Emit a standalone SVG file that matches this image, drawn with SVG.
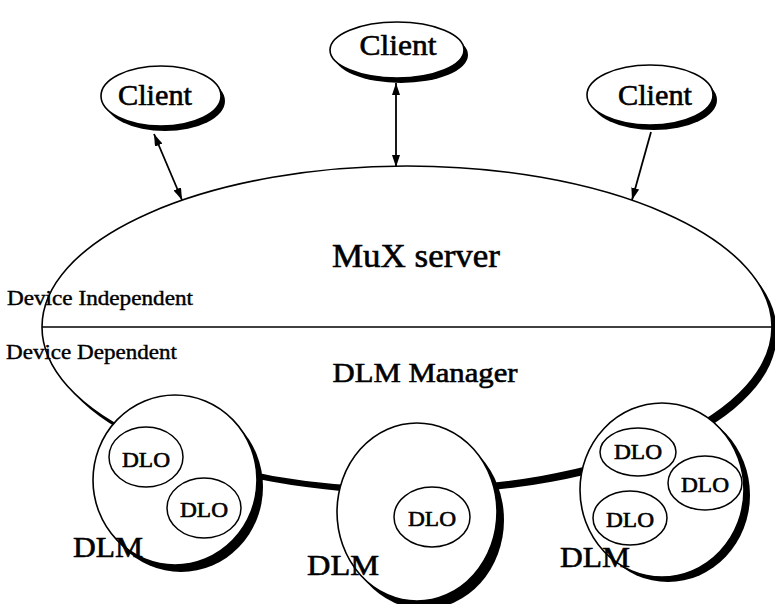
<svg xmlns="http://www.w3.org/2000/svg" width="775" height="604" viewBox="0 0 775 604">
<style>
text{font-family:"Liberation Serif","Times New Roman",serif;fill:#000;stroke:#000;stroke-width:0.6}
.sh{fill:#000;stroke:none}
.body{fill:#fff;stroke:#000;stroke-width:1.6}
.dlo{fill:#fff;stroke:#000;stroke-width:1.5}
.t-client{font-size:29px;text-anchor:middle}
.t-dlo{font-size:22px;text-anchor:middle}
.t-dlm{font-size:30px}
.t-side{font-size:20px;stroke-width:0.4}
.conn{stroke:#000;stroke-width:1.8;fill:none}
</style>
<defs>
<marker id="ah" viewBox="0 0 12 8" refX="12" refY="4" markerWidth="12" markerHeight="8" markerUnits="userSpaceOnUse" orient="auto-start-reverse">
<path d="M0,0 L12,4 L0,8 Z" fill="#000"/>
</marker>
</defs>

<g id="server">
<ellipse class="sh" cx="412" cy="333" rx="365" ry="161"/>
<ellipse class="body" cx="407" cy="327" rx="365" ry="161"/>
<line x1="42" y1="327" x2="772" y2="327" stroke="#000" stroke-width="1.6"/>
<text x="416" y="267" font-size="34" text-anchor="middle" textLength="168" lengthAdjust="spacingAndGlyphs">MuX server</text>
<text x="425" y="382" font-size="28" text-anchor="middle" textLength="185" lengthAdjust="spacingAndGlyphs">DLM Manager</text>
<text class="t-side" x="7" y="305" textLength="186" lengthAdjust="spacingAndGlyphs">Device Independent</text>
<text class="t-side" x="6" y="359" textLength="171" lengthAdjust="spacingAndGlyphs">Device Dependent</text>
</g>

<g id="connectors">
<line class="conn" x1="154" y1="134" x2="182" y2="200" marker-start="url(#ah)" marker-end="url(#ah)"/>
<line class="conn" x1="396" y1="83" x2="396" y2="167" marker-start="url(#ah)" marker-end="url(#ah)"/>
<line class="conn" x1="651" y1="132" x2="632" y2="200" marker-end="url(#ah)"/>
</g>

<g id="client-left">
<ellipse class="sh" cx="165" cy="101" rx="60" ry="30"/>
<ellipse class="body" cx="161" cy="96" rx="60" ry="30"/>
<text class="t-client" x="155" y="105" textLength="74" lengthAdjust="spacingAndGlyphs">Client</text>
</g>
<g id="client-middle">
<ellipse class="sh" cx="401" cy="55" rx="67" ry="28"/>
<ellipse class="body" cx="397" cy="50" rx="67" ry="28"/>
<text class="t-client" x="398" y="55" textLength="77" lengthAdjust="spacingAndGlyphs">Client</text>
</g>
<g id="client-right">
<ellipse class="sh" cx="654" cy="100" rx="63" ry="30"/>
<ellipse class="body" cx="650" cy="95" rx="63" ry="30"/>
<text class="t-client" x="655" y="105" textLength="74" lengthAdjust="spacingAndGlyphs">Client</text>
</g>

<g id="dlm-left">
<ellipse class="sh" cx="181" cy="487" rx="82" ry="85"/>
<ellipse class="body" cx="175" cy="480" rx="82" ry="85"/>
<ellipse class="dlo" cx="146" cy="457" rx="37" ry="30"/>
<text class="t-dlo" x="146" y="467" textLength="48" lengthAdjust="spacingAndGlyphs">DLO</text>
<ellipse class="dlo" cx="204" cy="508" rx="37" ry="30"/>
<text class="t-dlo" x="204" y="517" textLength="48" lengthAdjust="spacingAndGlyphs">DLO</text>
<text class="t-dlm" x="73" y="557" textLength="70" lengthAdjust="spacingAndGlyphs">DLM</text>
</g>

<g id="dlm-middle">
<ellipse class="sh" cx="424" cy="520" rx="80" ry="89"/>
<ellipse class="body" cx="417" cy="512" rx="80" ry="89"/>
<ellipse class="dlo" cx="432" cy="517" rx="38" ry="30"/>
<text class="t-dlo" x="432" y="526" textLength="48" lengthAdjust="spacingAndGlyphs">DLO</text>
<text class="t-dlm" x="307" y="575" textLength="72" lengthAdjust="spacingAndGlyphs">DLM</text>
</g>

<g id="dlm-right">
<ellipse class="sh" cx="668" cy="495" rx="82" ry="87"/>
<ellipse class="body" cx="662" cy="490" rx="82" ry="87"/>
<ellipse class="dlo" cx="638" cy="452" rx="38" ry="24"/>
<text class="t-dlo" x="638" y="459" textLength="48" lengthAdjust="spacingAndGlyphs">DLO</text>
<ellipse class="dlo" cx="705" cy="483" rx="37" ry="27"/>
<text class="t-dlo" x="705" y="492" textLength="48" lengthAdjust="spacingAndGlyphs">DLO</text>
<ellipse class="dlo" cx="630" cy="518" rx="37" ry="27"/>
<text class="t-dlo" x="630" y="527" textLength="48" lengthAdjust="spacingAndGlyphs">DLO</text>
<text class="t-dlm" x="560" y="567" textLength="70" lengthAdjust="spacingAndGlyphs">DLM</text>
</g>
</svg>
